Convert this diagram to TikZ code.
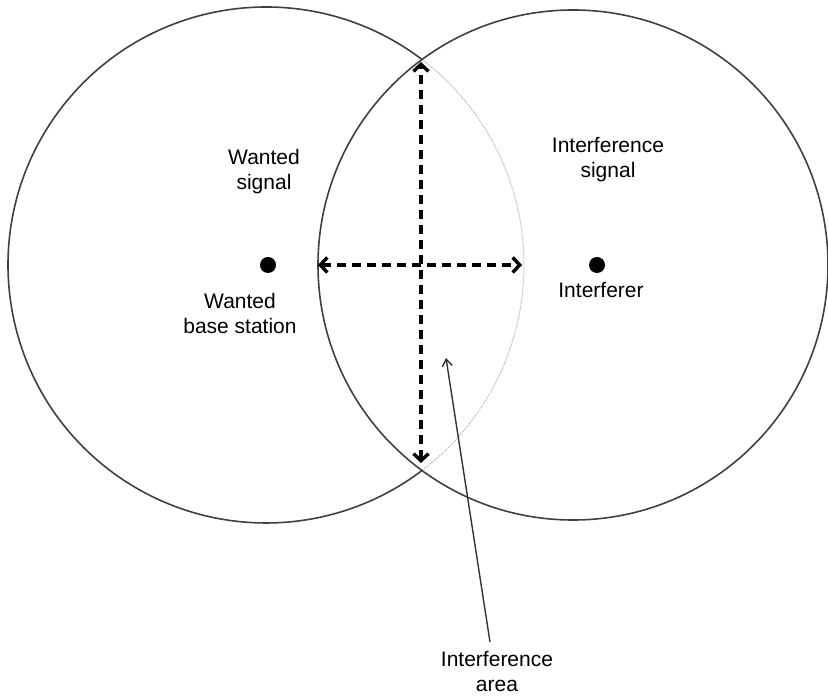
\documentclass[tikz,border=0pt]{standalone}
\usepackage{fontspec}
\setmainfont{Liberation Sans}
\usetikzlibrary{arrows.meta}
\begin{document}
\begin{tikzpicture}[x=1pt,y=1pt,
  rim/.style={draw=black!75,line width=1.6pt},
  hidden rim/.style={draw=black!30,line width=1pt,densely dotted},
  span/.style={line width=3.4pt,dash pattern=on 9pt off 6pt,
    {Straight Barb[length=7pt,width=15pt,line width=3.4pt]}-{Straight Barb[length=7pt,width=15pt,line width=3.4pt]}},
  pointer/.style={draw=black!80,line width=1.4pt,-{Straight Barb[length=7pt,width=10pt]}},
  station/.style={circle,fill=black,inner sep=0pt,minimum size=16pt},
  caption/.style={align=center,inner sep=0pt,anchor=base,
    font=\fontsize{21}{25}\selectfont}]
\useasboundingbox (0,0) rectangle (828,696);

% coverage circles
\coordinate (wc) at (266,431);
\coordinate (ic) at (573,431);
\draw[rim] (wc) ++(52.7:258) arc[start angle=52.7,end angle=307.3,radius=258];
\draw[hidden rim] (wc) ++(-52.7:258) arc[start angle=-52.7,end angle=52.7,radius=258];
\draw[rim] (ic) circle[radius=255];

% transmitters
\node[station] (wanted) at (268,431) {};
\node[station] (interferer) at (597,431) {};

% overlap extent
\coordinate (top) at (421,634);
\coordinate (bottom) at (421,233);
\coordinate (left) at (318,431);
\coordinate (right) at (522,431);
\draw[span] (left) -- (right);
\draw[span] (bottom) -- (top);

% labels (base anchor sits on the last line)
\node[caption] (wsig) at (264,506) {Wanted\\signal};
\node[caption] (isig) at (608,518) {Interference\\signal};
\node[caption] (wbs) at (240,362) {Wanted\\base station};
\node[caption] (ifr) at (601,398) {Interferer};
\node[caption] (iarea) at (497,4) {Interference\\area};

\coordinate (areatail) at (490,54);
\coordinate (areatip) at (446,338);
\draw[pointer] (areatail) -- (areatip);
\end{tikzpicture}
\end{document}
